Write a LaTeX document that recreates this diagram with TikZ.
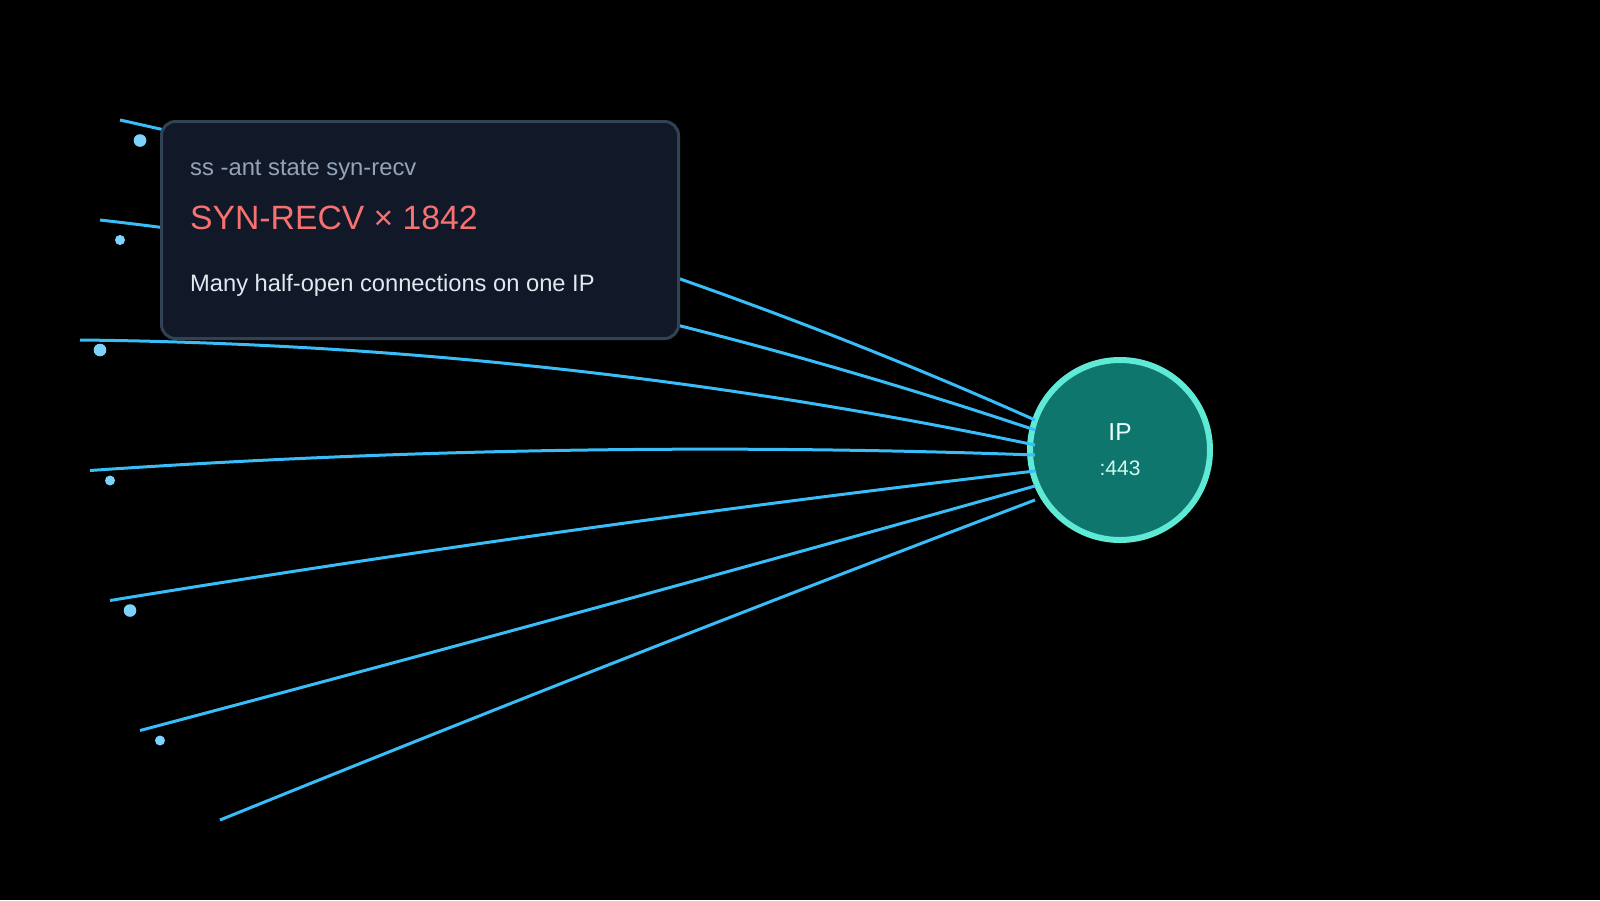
\documentclass[tikz,border=0pt]{standalone}
\usepackage{fontspec}
\setmainfont{Liberation Sans}
\usetikzlibrary{calc}
\definecolor{linkc}{HTML}{38BDF8}
\definecolor{dotcol}{HTML}{7DD3FC}
\definecolor{ipfill}{HTML}{0F766E}
\definecolor{ipstroke}{HTML}{5EEAD4}
\definecolor{iptext}{HTML}{ECFEFF}
\definecolor{porttext}{HTML}{CCFBF1}
\definecolor{boxfill}{HTML}{111827}
\definecolor{boxline}{HTML}{334155}
\definecolor{cmdtext}{HTML}{94A3B8}
\definecolor{alerttext}{HTML}{F87171}
\definecolor{desctext}{HTML}{E2E8F0}
\begin{document}
\begin{tikzpicture}[x=1pt,y=-1pt,
  link/.style={draw=linkc, line width=3pt},
  dotn/.style={circle, fill=dotcol, inner sep=0pt, minimum size=#1},
  txt/.style={anchor=base west, inner sep=0pt}]
\fill[black] (0,0) rectangle (1600,900);
\useasboundingbox (0,0) rectangle (1600,900);
% server node
\node[circle, draw=ipstroke, fill=ipfill, line width=6pt, minimum size=180pt, inner sep=0pt] (ip) at (1120,450) {};
\node[anchor=base, inner sep=0pt, text=iptext, font=\fontsize{24.5}{28}\selectfont] (iplabel) at (1120,440) {IP};
\node[anchor=base, inner sep=0pt, text=porttext, font=\fontsize{21}{24}\selectfont] (port) at (1120,475) {:443};
% sources
\coordinate (s1) at (120,120);  \coordinate (c1) at (600,226); \coordinate (e1) at (1035,420);
\coordinate (s2) at (100,220);  \coordinate (c2) at (567,273); \coordinate (e2) at (1035,430);
\coordinate (s3) at (80,340);   \coordinate (c3) at (557,345); \coordinate (e3) at (1035,445);
\coordinate (s4) at (90,470.5); \coordinate (c4) at (562,438); \coordinate (e4) at (1035,455);
\coordinate (s5) at (110,600.5);\coordinate (c5) at (572,525); \coordinate (e5) at (1035,471);
\coordinate (s6) at (140,730.5);\coordinate (c6) at (587,612); \coordinate (e6) at (1035,486);
\coordinate (s7) at (220,820);  \coordinate (c7) at (627,655); \coordinate (e7) at (1035,500);
\foreach \i in {1,...,7}{
  \draw[link] (s\i) .. controls ($(s\i)!2/3!(c\i)$) and ($(e\i)!2/3!(c\i)$) .. (e\i);
}
\node[dotn=12.6pt] (d1) at (140,140.5) {};
\node[dotn=10pt]   (d2) at (120,240) {};
\node[dotn=12.6pt] (d3) at (100,350) {};
\node[dotn=10pt]   (d4) at (110,480.5) {};
\node[dotn=12.6pt] (d5) at (130,610.5) {};
\node[dotn=10pt]   (d6) at (160,740.5) {};
% info box
\node[draw=boxline, fill=boxfill, line width=3pt, rounded corners=14pt, outer sep=0pt,
      minimum width=517pt, minimum height=217pt, inner sep=0pt, anchor=north west] (box) at (161.5,121.5) {};
\node[txt, text=cmdtext, font=\fontsize{23.8}{28}\selectfont] (cmd) at (190,175) {ss -ant state syn-recv};
\node[txt, text=alerttext, font=\fontsize{33.7}{38}\selectfont] (alert) at (190,229) {SYN-RECV × 1842};
\node[txt, text=desctext, font=\fontsize{23.7}{28}\selectfont] (desc) at (190,291) {Many half-open connections on one IP};
\end{tikzpicture}
\end{document}
